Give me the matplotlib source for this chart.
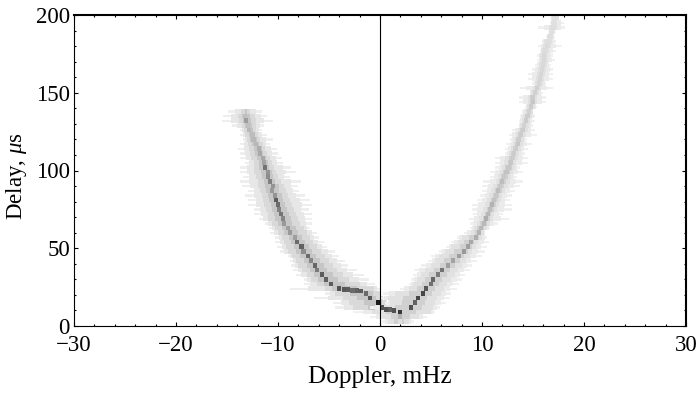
# secondary spectrum style plot, values per delay row
import matplotlib
matplotlib.use('Agg')
import matplotlib.pyplot as plt
from matplotlib.ticker import MultipleLocator

# left arm, rows in delay (us), doppler in mHz
left_delay = [138, 135, 132, 129, 126, 123, 120, 117, 114, 111, 108, 105, 102, 99, 96, 93, 90, 87, 84, 81, 78, 75,
              72, 69, 66, 63, 60, 57, 54, 51, 48, 45, 42, 39, 36, 33, 30, 27, 24, 21, 18, 15, 12]
left_outer_lo = [-14.9, -15.4, -15.5, -14.5, -13.7, -13.7, -13.4, -13.7, -13.9, -13.7, -13.7, -13.2, -13.7, -13.7,
                 -13.4, -13.7, -13.5, -12.9, -13.2, -12.9, -12.9, -12.4, -12.4, -11.9, -11.3, -10.9, -10.8, -10.3,
                 -10.3, -10.1, -9.8, -9.0, -8.8, -8.7, -8.5, -8.2, -7.5, -7.5, -8.8, -5.4, -6.5, -4.6, -4.4]
left_outer_hi = [-11.6, -11.1, -10.5, -11.4, -11.6, -11.1, -10.5, -10.8, -10.1, -10.0, -9.6, -9.5, -8.7, -8.2,
                 -8.8, -7.7, -8.0, -7.9, -7.4, -6.9, -6.7, -7.0, -6.7, -6.7, -6.7, -6.9, -6.2, -6.0,
                 -5.5, -5.2, -4.4, -4.0, -3.4, -3.1, -2.3, -1.6, -1.1, -0.5, 0.0, 0.0, 0.3, 0.8, 2.0]
left_inner_lo = [-13.6, -13.9, -13.8, -13.5, -13.3, -13.2, -13.0, -12.9, -12.8, -12.7, -12.6, -12.4, -12.4, -12.4,
                 -12.2, -12.0, -12.0, -11.8, -11.6, -11.5, -11.4, -11.2, -11.0, -11.0, -10.6, -10.3, -10.0, -9.6,
                 -9.4, -9.2, -9.0, -8.6, -8.2, -8.0, -7.6, -7.2, -6.8, -6.2, -5.4, -4.4, -3.6, -3.0, -2.6]
left_inner_hi = [-12.7, -12.3, -12.2, -12.2, -12.2, -12.0, -11.8, -11.5, -11.3, -11.1, -10.8, -10.6, -10.4, -10.2,
                 -10.0, -9.7, -9.4, -9.2, -9.0, -8.8, -8.6, -8.4, -8.2, -8.0, -7.8, -7.5, -7.2, -6.9,
                 -6.6, -6.2, -5.8, -5.4, -5.0, -4.6, -4.2, -3.6, -3.0, -2.0, -0.6, 0.0, 0.3, 0.6, 1.5]
left_core = [-13.4, -13.2, -13.1, -12.9, -12.8, -12.5, -12.4, -12.2, -11.9, -11.8, -11.5, -11.4, -11.3, -11.0,
             -11.0, -10.8, -10.5, -10.6, -10.3, -10.2, -10.0, -9.9, -9.7, -9.5, -9.4, -9.0, -8.8, -8.3,
             -8.1, -7.7, -7.5, -7.1, -6.8, -6.4, -6.2, -5.7, -5.3, -4.8, -4.0, -1.4, -1.0, -0.2, 0.2]
left_gray = [0.85, 0.75, 0.62, 0.75, 0.72, 0.74, 0.72, 0.72, 0.68, 0.66, 0.66, 0.64, 0.45, 0.58,
             0.55, 0.50, 0.58, 0.60, 0.58, 0.36, 0.42, 0.50, 0.46, 0.52, 0.60, 0.62, 0.60, 0.62,
             0.42, 0.38, 0.55, 0.42, 0.52, 0.40, 0.48, 0.36, 0.38, 0.36, 0.32, 0.42, 0.34, 0.10, 0.32]

# right arm
right_delay = [3, 6, 9, 12, 15, 18, 21, 24, 27, 30, 33, 36, 39, 42, 45, 48, 51, 54, 57, 60, 63, 66, 69, 72, 75, 78,
               81, 84, 87, 90, 93, 96, 99, 102, 105, 108, 111, 114, 117, 120, 123, 126, 129, 132, 135, 138, 141,
               144, 147, 150, 153, 156, 159, 162, 165, 168, 171, 174, 177, 180, 183, 186, 189, 192, 195, 198]
right_outer_lo = [0.2, -1.0, -2.6, -1.0, 0.5, 0.0, 0.3, 2.0, 2.8, 3.0, 3.2, 3.3, 4.0, 4.7, 5.0, 5.8, 6.5, 7.0, 7.5,
                  8.2, 8.8, 8.8, 8.7, 9.1, 9.0, 9.0, 9.5, 9.8, 10.0, 10.0, 10.1, 10.8, 10.8, 11.3, 11.3, 11.3,
                  12.3, 12.3, 12.4, 12.7, 12.6, 12.9, 13.6, 13.6, 13.7, 13.9, 14.2, 13.6, 13.6, 14.7, 13.7, 14.9,
                  14.5, 14.5, 14.9, 15.2, 15.4, 15.4, 15.7, 15.5, 15.9, 16.3, 16.5, 15.5, 16.7, 16.7]
right_outer_hi = [3.3, 4.6, 5.4, 5.9, 6.5, 6.9, 7.0, 7.5, 7.7, 8.0, 8.3, 8.8, 9.0, 9.5, 10.0, 10.3, 10.5, 10.7, 10.5,
                  10.3, 10.8, 11.6, 12.6, 12.1, 12.9, 12.9, 12.7, 12.9, 13.2, 13.7, 14.0, 13.4, 14.0, 13.7, 14.5, 14.5,
                  14.2, 14.5, 14.9, 14.4, 15.4, 15.2, 15.0, 15.2, 15.2, 15.0, 15.4, 16.3, 16.3, 16.0, 17.0, 16.3,
                  17.0, 17.0, 17.0, 16.8, 17.2, 17.0, 17.3, 17.8, 17.3, 17.2, 17.3, 18.1, 18.0, 17.5]
right_inner_lo = [0.8, 0.2, -0.8, 0.0, 1.0, 0.8, 1.5, 2.8, 3.2, 3.6, 4.0, 4.4, 5.0, 5.4, 5.8, 6.4, 7.0, 7.6, 8.0,
                  8.9, 9.2, 9.5, 9.7, 9.9, 10.1, 10.3, 10.5, 10.7, 10.9, 11.1, 11.4, 11.6, 11.8, 12.0, 12.2, 12.3,
                  12.6, 12.8, 13.0, 13.1, 13.3, 13.5, 13.7, 13.9, 14.0, 14.2, 14.4, 14.5, 14.5, 14.8, 15.0, 15.2,
                  15.3, 15.4, 15.5, 15.6, 15.7, 15.7, 15.8, 16.0, 16.1, 16.4, 16.6, 16.6, 16.8, 16.9]
right_inner_hi = [2.8, 3.8, 5.0, 5.2, 5.4, 5.6, 6.0, 6.3, 6.6, 7.0, 7.4, 7.6, 8.0, 8.4, 8.8, 9.0, 9.4, 9.6, 10.0,
                  10.2, 10.5, 10.8, 11.1, 11.2, 11.5, 11.7, 11.9, 12.0, 12.3, 12.5, 12.7, 12.8, 13.0, 13.2, 13.3, 13.5,
                  13.6, 13.8, 14.0, 14.1, 14.3, 14.5, 14.6, 14.7, 14.9, 15.0, 15.2, 15.4, 15.4, 15.6, 15.8, 16.0,
                  16.1, 16.2, 16.3, 16.4, 16.5, 16.5, 16.6, 16.8, 16.9, 17.0, 17.1, 17.4, 17.4, 17.5]
right_core = [2.0, 2.0, 2.0, 3.0, 3.4, 3.7, 4.2, 4.5, 5.0, 5.2, 5.7, 6.1, 6.7, 7.2, 7.7, 8.2, 8.6, 8.9, 9.4,
              9.7, 9.9, 10.2, 10.4, 10.6, 10.8, 11.0, 11.2, 11.4, 11.6, 11.8, 12.0, 12.2, 12.4, 12.6, 12.8, 12.9,
              13.1, 13.3, 13.5, 13.6, 13.8, 14.0, 14.1, 14.3, 14.5, 14.6, 14.8, 15.0, 15.0, 15.2, 15.4, 15.6,
              15.7, 15.8, 15.9, 16.0, 16.1, 16.1, 16.2, 16.4, 16.5, 16.7, 16.9, 17.0, 17.1, 17.2]
right_gray = [0.88, 0.70, 0.22, 0.32, 0.38, 0.28, 0.28, 0.34, 0.44, 0.40, 0.48, 0.45, 0.62, 0.64, 0.62, 0.60, 0.62, 0.66, 0.68,
              0.70, 0.72, 0.72, 0.68, 0.72, 0.74, 0.70, 0.76, 0.78, 0.74, 0.78, 0.74, 0.78, 0.76, 0.78, 0.78, 0.80,
              0.80, 0.80, 0.78, 0.80, 0.80, 0.80, 0.82, 0.80, 0.80, 0.82, 0.80, 0.78, 0.80, 0.82, 0.82, 0.84,
              0.84, 0.84, 0.85, 0.85, 0.85, 0.85, 0.86, 0.86, 0.87, 0.87, 0.88, 0.87, 0.88, 0.88]

# flat dark run of the ridge near zero doppler
flat_doppler = [-3.5, -3.1, -2.7, -2.3, -1.9, 0.6, 1.0, 1.4]
flat_delay = [23.5, 23.5, 23.0, 23.0, 22.5, 10.5, 10.5, 10.0]
flat_gray = [0.34, 0.36, 0.42, 0.38, 0.36, 0.32, 0.38, 0.32]

x_ticks = [-30, -20, -10, 0, 10, 20, 30]
y_ticks = [0, 50, 100, 150, 200]

plt.rcParams['font.family'] = ['Liberation Serif', 'DejaVu Serif']
plt.rcParams['mathtext.fontset'] = 'custom'
plt.rcParams['mathtext.it'] = 'Liberation Serif:italic'
plt.rcParams['mathtext.rm'] = 'Liberation Serif'

fig = plt.figure(figsize=(7.0, 3.94), dpi=100)
ax = fig.add_axes([74 / 700, 1 - 326 / 394, (686 - 74) / 700, (326 - 15) / 394])

row_h = 3.0


def band(delay, lo, hi, color, height=row_h):
    widths = [h - l for l, h in zip(lo, hi)]
    ax.barh(delay, widths, left=lo, height=height, color=color, linewidth=0, antialiased=False)


def between(a, b):
    return [(p + q) / 2 for p, q in zip(a, b)]


# layers from the faint streaks in to the ridge
for delay, o_lo, o_hi, i_lo, i_hi, core, cols in [
    (left_delay, left_outer_lo, left_outer_hi, left_inner_lo, left_inner_hi, left_core,
     ['#eeeeee', '#e7e7e7', '#d9d9d9', '#c6c6c6']),
    (right_delay, right_outer_lo, right_outer_hi, right_inner_lo, right_inner_hi, right_core,
     ['#f0f0f0', '#ebebeb', '#e1e1e1', '#d0d0d0']),
]:
    band(delay, o_lo, o_hi, cols[0], height=1.5)
    band(delay, between(o_lo, i_lo), between(o_hi, i_hi), cols[1])
    band(delay, i_lo, i_hi, cols[2])
    band(delay, between(i_lo, core), between(i_hi, core), cols[3])

for xs, ys, gs in [(left_core, left_delay, left_gray), (right_core, right_delay, right_gray),
                   (flat_doppler, flat_delay, flat_gray)]:
    for x, y, g in zip(xs, ys, gs):
        ax.bar(x, row_h, width=0.4, bottom=y - row_h / 2, color=str(g), linewidth=0, antialiased=False)

ax.axvline(0, color='black', lw=0.8)
ax.set_xlim(-30, 30)
ax.set_ylim(0, 200)
ax.set_xticks(x_ticks)
ax.set_yticks(y_ticks)
ax.xaxis.set_minor_locator(MultipleLocator(2))
ax.yaxis.set_minor_locator(MultipleLocator(10))
ax.tick_params(which='major', direction='in', length=3, width=0.8, top=True, right=True, labelsize=16.5)
ax.tick_params(which='minor', direction='in', length=1.5, width=0.8, top=True, right=True)
ax.tick_params(axis='x', which='major', pad=6.5)
ax.tick_params(axis='y', which='major', pad=3)
ax.spines['left'].set_linewidth(0.8)
ax.spines['bottom'].set_linewidth(0.8)
ax.spines['top'].set_linewidth(1.5)
ax.spines['right'].set_linewidth(1.5)
ax.set_xlabel('Doppler, mHz', fontsize=18.2, labelpad=7)
ax.set_ylabel(r'Delay, $\mu$s', fontsize=16.5, labelpad=5, y=0.482)

fig.savefig('out.png', dpi=100)
